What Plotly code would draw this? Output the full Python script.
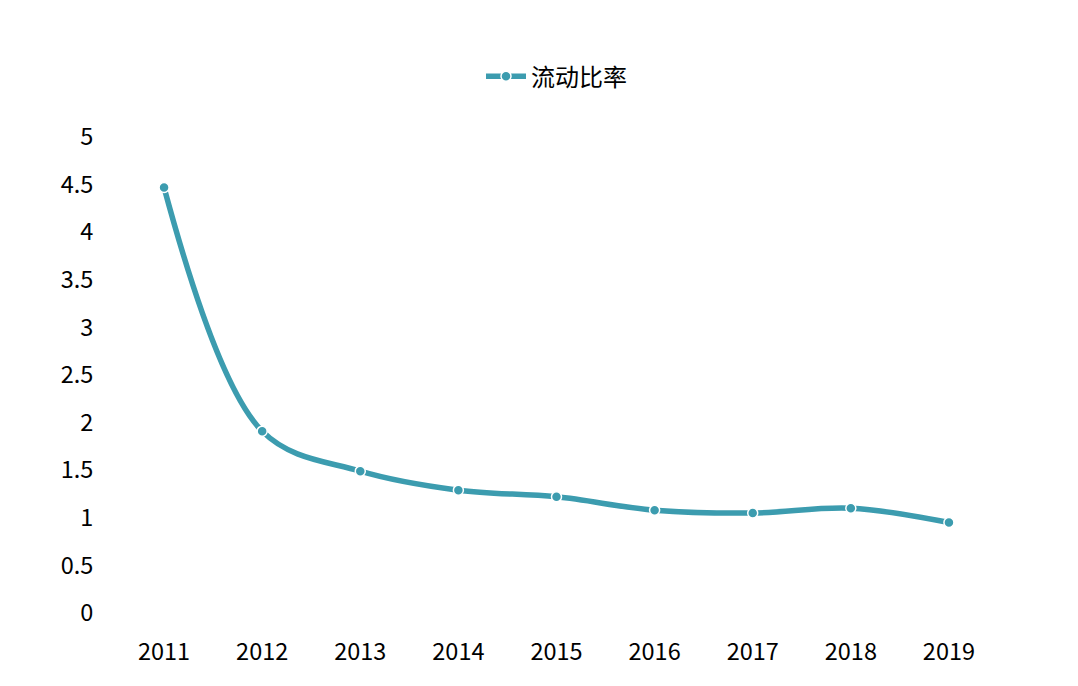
import plotly.graph_objects as go

years = [2011, 2012, 2013, 2014, 2015, 2016, 2017, 2018, 2019]
current_ratio = [4.47, 1.91, 1.49, 1.29, 1.22, 1.08, 1.05, 1.10, 0.95]
series_name = "流动比率"
y_ticks = [0, 0.5, 1, 1.5, 2, 2.5, 3, 3.5, 4, 4.5, 5]
y_tick_labels = ["0", "0.5", "1", "1.5", "2", "2.5", "3", "3.5", "4", "4.5", "5"]

color = "#3C9CAF"
font_family = "Noto Sans CJK SC"

fig = go.Figure()
fig.add_trace(go.Scatter(
    x=years, y=current_ratio, name=series_name,
    mode="lines+markers",
    line=dict(color=color, width=5.5, shape="spline", smoothing=1.0),
    marker=dict(size=10, color=color, line=dict(color="white", width=1.5)),
))

fig.update_layout(
    width=1078, height=686,
    paper_bgcolor="white", plot_bgcolor="white",
    margin=dict(l=107, r=88, t=129, b=81),
    font=dict(family=font_family, size=23.5, color="#000000"),
    showlegend=True,
    legend=dict(orientation="h", x=0.5, xanchor="center", y=1.127, yanchor="middle",
                font=dict(size=24, family=font_family), itemwidth=40),
    xaxis=dict(range=[2010.5, 2019.5], tickmode="array", tickvals=years,
               ticktext=[str(y) for y in years], showgrid=False, zeroline=False,
               showline=False, ticks="outside", ticklen=18, tickcolor="rgba(0,0,0,0)"),
    yaxis=dict(range=[0, 5], tickmode="array", tickvals=y_ticks, ticktext=y_tick_labels,
               showgrid=False, zeroline=False, showline=False,
               ticks="outside", ticklen=16, tickcolor="rgba(0,0,0,0)"),
)

fig.write_html("out.html")
